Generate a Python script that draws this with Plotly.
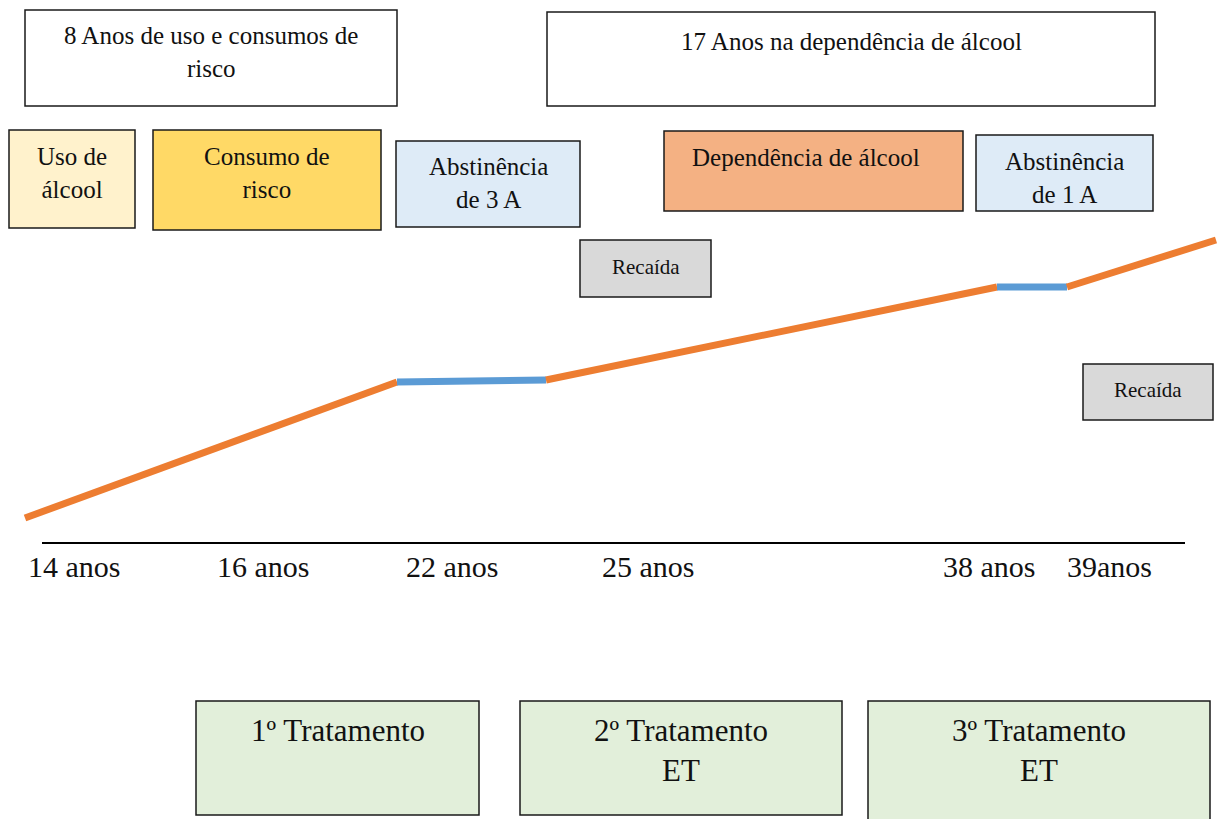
import plotly.graph_objects as go

# ---- data ----
age_labels = ["14 anos", "16 anos", "22 anos", "25 anos", "38 anos", "39anos"]
age_label_x = [74, 263, 452, 648, 989, 1109]

# trajectory (diagram units), one list per segment
seg_x = [[25, 397], [397, 546], [546, 997], [997, 1067], [1067, 1216]]
seg_y = [[518, 382], [382, 380], [380, 287], [287, 287], [287, 240]]
seg_kind = ["uso", "abst", "uso", "abst", "uso"]

box_texts = [
    "8 Anos de uso e consumos de<br>risco",
    "17 Anos na dependência de álcool",
    "Uso de<br>álcool",
    "Consumo de<br>risco",
    "Abstinência<br>de 3 A",
    "Recaída",
    "Dependência de álcool",
    "Abstinência<br>de 1 A",
    "Recaída",
    "1º Tratamento",
    "2º Tratamento<br>ET",
    "3º Tratamento<br>ET",
]

# ---- layout / styling ----
box_geom = [
    (25, 10, 397, 106),
    (547, 12, 1155, 106),
    (9, 130, 135, 228),
    (153, 130, 381, 230),
    (396, 141, 580, 227),
    (580, 240, 711, 297),
    (664, 131, 963, 211),
    (976, 135, 1153, 211),
    (1083, 364, 1213, 420),
    (196, 701, 479, 815),
    (520, 701, 842, 815),
    (868, 701, 1210, 830),
]
box_fill = ["white", "white", "#FFF2CC", "#FFD966", "#DEEBF7", "#D9D9D9",
            "#F4B183", "#DEEBF7", "#D9D9D9", "#E2EFDA", "#E2EFDA", "#E2EFDA"]
first_line_y = [36, 42, 157, 157, 167, 267, 158, 162, 390, 731, 731, 731]
text_x = [None, None, None, None, None, None, 806, None, None, None, None, None]
font_size = [25, 25, 25, 25, 25, 21, 25, 25, 21, 31, 31, 31]

kind_color = {"uso": "#ED7D31", "abst": "#5B9BD5"}

fig = go.Figure()

for xs, ys, k in zip(seg_x, seg_y, seg_kind):
    fig.add_trace(go.Scatter(x=xs, y=ys, mode="lines",
                             line=dict(color=kind_color[k], width=7),
                             hoverinfo="skip", showlegend=False))

shapes = []
annotations = []
for (x0, y0, x1, y1), fill, txt, cy, tx, fs in zip(box_geom, box_fill, box_texts,
                                                   first_line_y, text_x, font_size):
    shapes.append(dict(type="rect", xref="x", yref="y", x0=x0, y0=y0, x1=x1, y1=y1,
                       fillcolor=fill, line=dict(color="#1a1a1a", width=1.5), layer="below"))
    annotations.append(dict(xref="x", yref="y", x=tx if tx else (x0 + x1) / 2,
                            y=cy - 0.65 * fs,
                            text=txt, showarrow=False, xanchor="center", yanchor="top",
                            align="center",
                            font=dict(family="Liberation Serif", size=fs, color="#111")))

# baseline
shapes.append(dict(type="line", xref="x", yref="y", x0=42, x1=1185, y0=543, y1=543,
                   line=dict(color="black", width=2)))

for lab, lx in zip(age_labels, age_label_x):
    annotations.append(dict(xref="x", yref="y", x=lx, y=566, text=lab, showarrow=False,
                            xanchor="center", yanchor="middle",
                            font=dict(family="Liberation Serif", size=30, color="#111")))

fig.update_layout(
    width=1219, height=819,
    margin=dict(l=0, r=0, t=0, b=0),
    paper_bgcolor="white", plot_bgcolor="white",
    xaxis=dict(range=[0, 1219], visible=False, fixedrange=True),
    yaxis=dict(range=[819, 0], visible=False, fixedrange=True),
    shapes=shapes, annotations=annotations,
)

fig.write_html(
    "out.html",
    config={"displayModeBar": False, "staticPlot": True},
    post_script="document.body.style.margin='0';document.body.style.overflow='hidden';",
)
